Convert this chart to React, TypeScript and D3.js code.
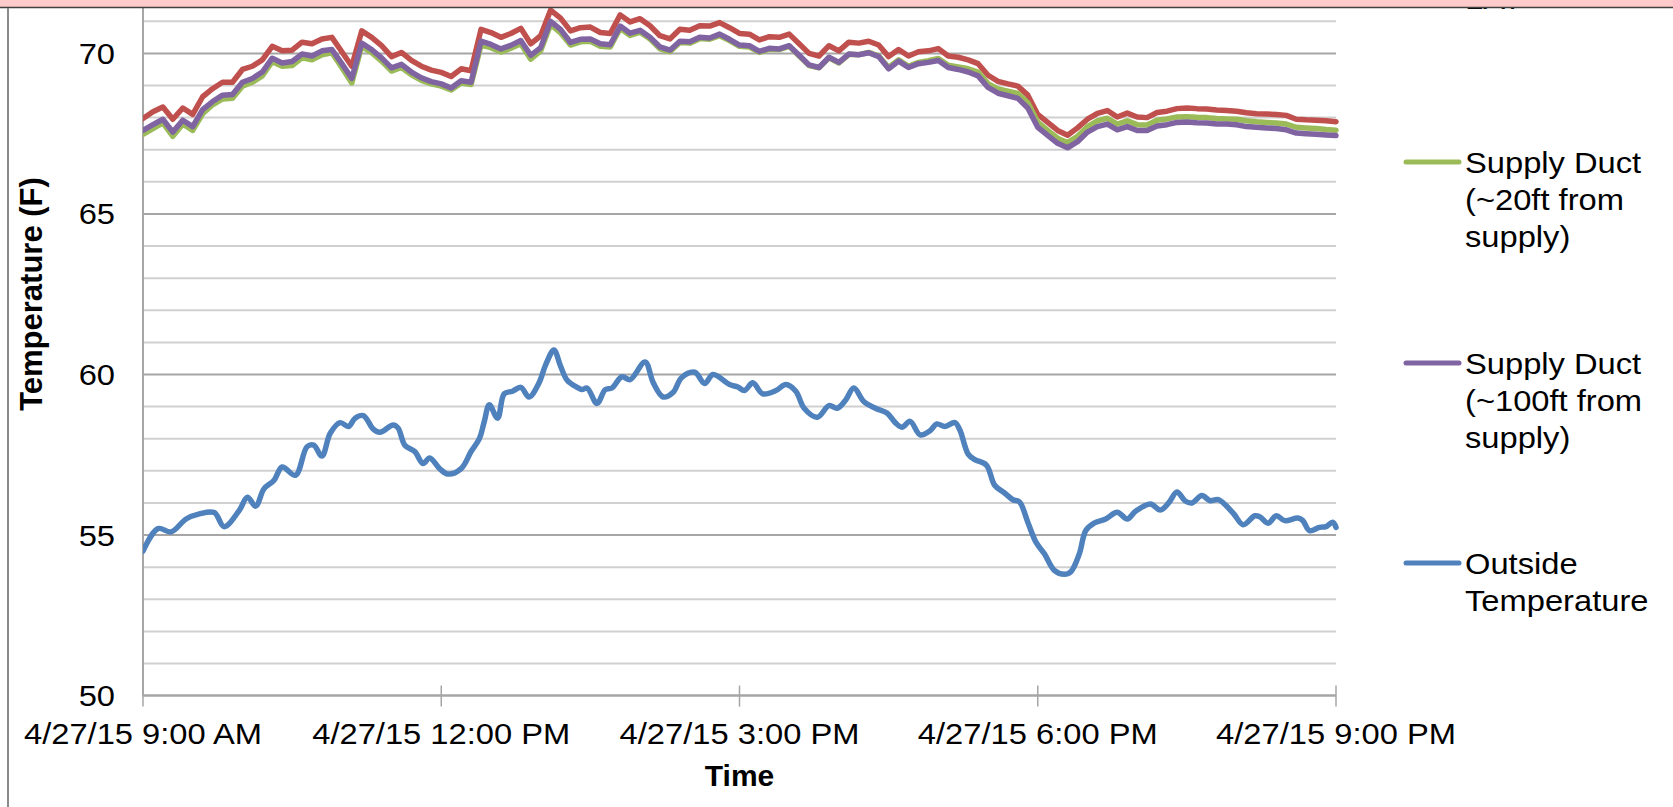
import React from 'react';
import * as d3 from 'd3';

// time axis (minutes after 4/27/15 9:00 AM)
const xTickMinutes = [0, 180, 360, 540, 720];
const xTickLabels = ['4/27/15 9:00 AM', '4/27/15 12:00 PM', '4/27/15 3:00 PM', '4/27/15 6:00 PM', '4/27/15 9:00 PM'];
const yTickValues = [50, 55, 60, 65, 70];

// indoor loggers, one reading every 6 minutes
const indoorMinutes = d3.range(0, 721, 6);

const supplyLAT = [
  67.97, 68.18, 68.33, 67.95, 68.3, 68.1, 68.65, 68.9, 69.1, 69.1,
  69.5, 69.6, 69.8, 70.22, 70.08, 70.1, 70.35, 70.3, 70.45, 70.5,
  70.05, 69.6, 70.7, 70.5, 70.24, 69.9, 70.03, 69.78, 69.6, 69.48,
  69.41, 69.28, 69.52, 69.46, 70.75, 70.65, 70.5, 70.62, 70.78, 70.3,
  70.55, 71.35, 71.1, 70.7, 70.8, 70.82, 70.65, 70.62, 71.2, 70.98,
  71.08, 70.86, 70.55, 70.45, 70.75, 70.72, 70.86, 70.85, 70.96, 70.8,
  70.62, 70.6, 70.42, 70.52, 70.5, 70.6, 70.3, 70.0, 69.92, 70.24,
  70.08, 70.35, 70.32, 70.38, 70.26, 69.9, 70.12, 69.92, 70.05, 70.08,
  70.15, 69.92, 69.88, 69.8, 69.68, 69.32, 69.13, 69.05, 68.98, 68.7,
  68.1, 67.85, 67.6, 67.45, 67.68, 67.95, 68.13, 68.22, 68.02, 68.14,
  68.02, 68.0, 68.16, 68.2, 68.28, 68.3, 68.28, 68.27, 68.24, 68.22,
  68.2, 68.15, 68.12, 68.11, 68.1, 68.07, 67.95, 67.93, 67.92, 67.9,
  67.87,
];

const duct20ft = [
  67.48, 67.66, 67.84, 67.42, 67.8, 67.6, 68.12, 68.4, 68.58, 68.6,
  68.98, 69.1, 69.3, 69.74, 69.6, 69.62, 69.86, 69.8, 69.96, 70.02,
  69.56, 69.08, 70.22, 70.02, 69.76, 69.45, 69.56, 69.33, 69.16, 69.05,
  68.98, 68.86, 69.08, 69.03, 70.26, 70.18, 70.04, 70.16, 70.3, 69.82,
  70.08, 70.9, 70.64, 70.26, 70.36, 70.38, 70.22, 70.2, 70.78, 70.56,
  70.66, 70.45, 70.14, 70.05, 70.34, 70.32, 70.46, 70.44, 70.55, 70.4,
  70.22, 70.2, 70.03, 70.13, 70.12, 70.22, 69.92, 69.62, 69.55, 69.86,
  69.7, 69.97, 69.96, 70.03, 69.92, 69.56, 69.8, 69.6, 69.72, 69.77,
  69.84, 69.63, 69.58, 69.52, 69.42, 69.06, 68.89, 68.82, 68.75, 68.46,
  67.86, 67.6, 67.36, 67.22, 67.42, 67.72, 67.9, 67.98, 67.8, 67.9,
  67.78, 67.77, 67.92, 67.96, 68.02, 68.03, 68.01, 68.0, 67.97, 67.96,
  67.95, 67.9, 67.87, 67.85, 67.83, 67.8, 67.7, 67.68, 67.66, 67.63,
  67.61,
];

const duct100ft = [
  67.6, 67.78, 67.95, 67.55, 67.92, 67.72, 68.25, 68.5, 68.7, 68.72,
  69.1, 69.22, 69.42, 69.85, 69.7, 69.75, 69.98, 69.92, 70.08, 70.12,
  69.68, 69.22, 70.32, 70.12, 69.86, 69.55, 69.66, 69.42, 69.24, 69.12,
  69.05, 68.92, 69.15, 69.1, 70.38, 70.28, 70.14, 70.25, 70.4, 69.94,
  70.18, 71.0, 70.75, 70.34, 70.44, 70.45, 70.3, 70.27, 70.85, 70.63,
  70.72, 70.5, 70.2, 70.1, 70.38, 70.36, 70.5, 70.48, 70.6, 70.44,
  70.26, 70.24, 70.06, 70.16, 70.14, 70.24, 69.94, 69.64, 69.56, 69.88,
  69.72, 69.98, 69.96, 70.02, 69.9, 69.52, 69.76, 69.56, 69.68, 69.72,
  69.78, 69.56, 69.5, 69.42, 69.3, 68.94, 68.76, 68.68, 68.6, 68.3,
  67.7, 67.45, 67.2, 67.06, 67.25, 67.55, 67.72, 67.8, 67.62, 67.72,
  67.6, 67.6, 67.74, 67.78, 67.85, 67.86, 67.84, 67.83, 67.8, 67.8,
  67.78, 67.72, 67.7, 67.68, 67.66, 67.62, 67.52, 67.5, 67.48, 67.46,
  67.44,
];

// outside temperature readings
const outsideMinutes = [
  0, 9, 17, 26, 34, 43, 49, 58, 63, 68, 73, 79, 84, 92, 99, 103, 108, 113, 119, 124,
  128, 133, 139, 143, 151, 154, 158, 164, 169, 173, 179, 184, 192, 198, 203, 206, 209, 214, 218, 223,
  228, 233, 239, 243, 248, 252, 256, 262, 265, 268, 274, 279, 283, 289, 294, 303, 308, 314, 320, 325,
  333, 339, 344, 354, 359, 363, 368, 374, 382, 388, 394, 399, 407, 414, 419, 424, 429, 435, 442, 449,
  454, 458, 463, 469, 475, 479, 484, 490, 493, 498, 502, 509, 514, 520, 525, 529, 534, 539, 544, 550,
  556, 560, 565, 569, 574, 581, 588, 594, 599, 608, 614, 619, 624, 629, 633, 639, 644, 649, 658, 664,
  671, 674, 679, 684, 689, 697, 700, 704, 710, 714, 718, 720,
];
const outsideTemp = [
  54.5, 55.2, 55.1, 55.5, 55.66, 55.7, 55.26, 55.76, 56.18, 55.9, 56.44, 56.7, 57.12, 56.86, 57.75, 57.8, 57.46, 58.17, 58.5, 58.38,
  58.64, 58.72, 58.3, 58.2, 58.43, 58.33, 57.8, 57.6, 57.23, 57.4, 57.07, 56.9, 57.07, 57.6, 58.0, 58.54, 59.06, 58.64, 59.4, 59.48,
  59.6, 59.3, 59.74, 60.3, 60.76, 60.26, 59.82, 59.6, 59.53, 59.58, 59.1, 59.53, 59.58, 59.93, 59.84, 60.39, 59.74, 59.3, 59.45, 59.9,
  60.07, 59.72, 60.0, 59.69, 59.61, 59.5, 59.74, 59.4, 59.5, 59.69, 59.48, 58.95, 58.67, 59.03, 58.95, 59.2, 59.58, 59.16, 58.95, 58.8,
  58.5, 58.36, 58.54, 58.12, 58.25, 58.46, 58.38, 58.5, 58.27, 57.52, 57.35, 57.18, 56.55, 56.31, 56.1, 56.03, 55.4, 54.77, 54.42, 53.9,
  53.78, 53.86, 54.4, 55.14, 55.37, 55.5, 55.71, 55.5, 55.74, 55.97, 55.78, 56.0, 56.34, 56.06, 56.0, 56.23, 56.07, 56.1, 55.68, 55.32,
  55.6, 55.57, 55.37, 55.6, 55.45, 55.53, 55.45, 55.14, 55.24, 55.26, 55.4, 55.24,
];

const legendItems = [
  { lines: ['Supply Duct', 'LAT'], color: '#c0504d', y: -39 },
  { lines: ['Supply Duct', '(~20ft from', 'supply)'], color: '#9bbb59', y: 162 },
  { lines: ['Supply Duct', '(~100ft from', 'supply)'], color: '#8064a2', y: 363 },
  { lines: ['Outside', 'Temperature'], color: '#4f81bd', y: 563 },
];

const W = 1673;
const H = 807;
const FONT = "'Liberation Sans', Arial, sans-serif";

const Label = ({ x, y, anchor = 'start', children, size = 30, weight = 'normal' as any, sx = 1.09 }) => (
  <text
    transform={`translate(${x},${y}) scale(${sx},1)`}
    textAnchor={anchor}
    fontSize={size}
    fontWeight={weight}
    fontFamily={FONT}
    fill="#000"
  >
    {children}
  </text>
);

export default function App() {
  const x = d3.scaleLinear().domain([0, 720]).range([143, 1336]);
  const y = d3.scaleLinear().domain([50, 70]).range([695.6, 53.4]);
  const grid = d3.range(50, 72);

  const indoorLine = (vals: number[]) =>
    d3.line<number>()
      .x((_, i) => x(indoorMinutes[i]))
      .y(d => y(d))
      .curve(d3.curveLinear)(vals) || '';

  const outsideLine =
    d3.line<number>()
      .x((_, i) => x(outsideMinutes[i]))
      .y(d => y(d))
      .curve(d3.curveCatmullRom.alpha(0.5))(outsideTemp) || '';

  const [xl, xr] = x.range();
  const y0 = y(50);

  return (
    <svg width={W} height={H} style={{ position: 'absolute', left: 0, top: 0, background: '#fff' }}>
      <defs>
        <clipPath id="plot">
          <rect x={xl} y={0} width={xr - xl + 4} height={y0} />
        </clipPath>
      </defs>
      <rect width={W} height={H} fill="#fff" />

      {/* gridlines */}
      {grid.map(v => (
        <line key={v} x1={xl} x2={xr} y1={y(v)} y2={y(v)}
          stroke={v % 5 === 0 ? '#a6a6a6' : '#d0d0d0'} strokeWidth={2} />
      ))}

      {/* axes */}
      <line x1={xl} x2={xl} y1={0} y2={y0} stroke="#a6a6a6" strokeWidth={2} />
      <line x1={xl} x2={xr} y1={y0} y2={y0} stroke="#a6a6a6" strokeWidth={2} />
      {xTickMinutes.map(m => (
        <line key={m} x1={x(m)} x2={x(m)} y1={y0 - 10} y2={y0 + 11} stroke="#a6a6a6" strokeWidth={1.5} />
      ))}

      {/* series */}
      <g clipPath="url(#plot)" fill="none" strokeLinejoin="round" strokeLinecap="round" strokeWidth={5.5}>
        <path d={indoorLine(supplyLAT)} stroke="#c0504d" />
        <path d={indoorLine(duct20ft)} stroke="#9bbb59" />
        <path d={indoorLine(duct100ft)} stroke="#8064a2" />
        <path d={outsideLine} stroke="#4f81bd" strokeWidth={5.5} />
      </g>

      {/* y tick labels */}
      {yTickValues.map(v => (
        <Label key={v} x={115} y={y(v) + 10.5} anchor="end">{v}</Label>
      ))}

      {/* x tick labels */}
      {xTickMinutes.map((m, i) => (
        <Label key={m} x={x(m)} y={744} anchor="middle">{xTickLabels[i]}</Label>
      ))}

      {/* axis titles */}
      <Label x={(xl + xr) / 2} y={786} anchor="middle" weight="bold" sx={1}>Time</Label>
      <text transform={`translate(42,${294}) rotate(-90)`} textAnchor="middle"
        fontSize={31} fontWeight="bold" fontFamily={FONT}>Temperature (F)</text>

      {/* legend */}
      {legendItems.map(item => (
        <g key={item.color}>
          <line x1={1406} x2={1459} y1={item.y} y2={item.y} stroke={item.color}
            strokeWidth={5} strokeLinecap="round" />
          {item.lines.map((t, j) => (
            <Label key={j} x={1465} y={item.y + 11 + j * 37}>{t}</Label>
          ))}
        </g>
      ))}

      {/* frame: pink band at top and left border */}
      <rect x={0} y={0} width={W} height={7} fill="#ffcaca" />
      <line x1={0} x2={W} y1={7.5} y2={7.5} stroke="#404040" strokeWidth={1.5} />
      <line x1={8} x2={8} y1={8} y2={H} stroke="#8a8a8a" strokeWidth={2} />
    </svg>
  );
}
